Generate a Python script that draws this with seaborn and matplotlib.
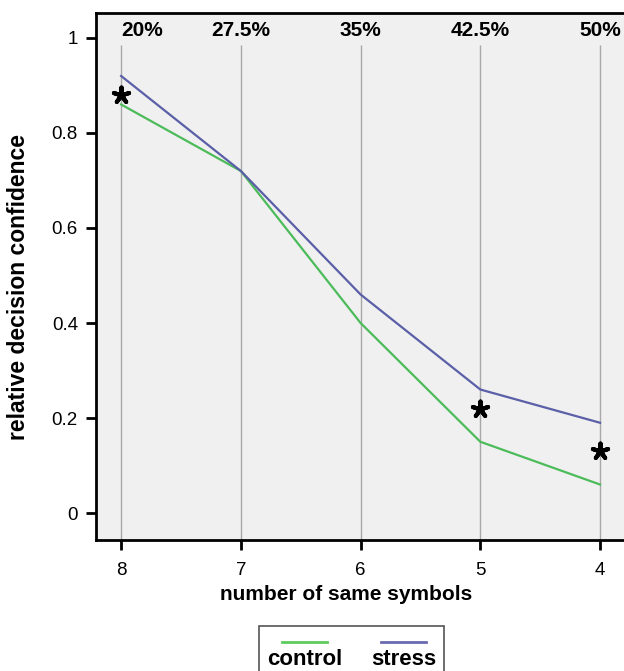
import numpy as np
import pandas as pd
import seaborn as sns
import matplotlib
matplotlib.use('Agg')
import matplotlib.pyplot as plt
from matplotlib.lines import Line2D
from matplotlib.offsetbox import VPacker

# values
symbols = [8, 7, 6, 5, 4]
percent_labels = ['20%', '27.5%', '35%', '42.5%', '50%']
control = [0.86, 0.72, 0.40, 0.15, 0.06]
stress = [0.92, 0.72, 0.46, 0.26, 0.19]
star_x = [8, 5, 4]
star_y = [0.88, 0.22, 0.13]
y_ticks = [0, 0.2, 0.4, 0.6, 0.8, 1]
y_ticklabels = ['0', '0.2', '0.4', '0.6', '0.8', '1']

df = pd.DataFrame({
    'symbols': symbols * 2,
    'confidence': control + stress,
    'group': ['control'] * 5 + ['stress'] * 5,
})

plt.rcParams['font.family'] = ['Liberation Sans', 'DejaVu Sans']

colors = {'control': '#4cbb5a', 'stress': '#5a5fa8'}

fig = plt.figure(figsize=(6.24, 6.71), dpi=100)
ax = fig.add_axes([96 / 624, 1 - 540 / 671, 528 / 624, 527 / 671])
ax.set_facecolor('#f0f0f0')

# vertical guide lines
ax.vlines(symbols, -0.06, 0.985, color='#a8a8a8', lw=1, zorder=1)

sns.lineplot(data=df, x='symbols', y='confidence', hue='group',
             palette=colors, linewidth=1.6, legend=False, ax=ax, zorder=3)

ax.scatter(star_x, star_y, marker=(5, 2, 0), s=130, color='black',
           linewidths=3, zorder=4)

# percentage labels on top of the guide lines
pct_align = ['left', 'center', 'center', 'center', 'center']
for x, lab, ha in zip(symbols, percent_labels, pct_align):
    ax.text(x, 1.015, lab, ha=ha, va='center', fontsize=15,
            fontweight='bold')

ax.set_xlim(8.21, 3.8)
ax.set_ylim(-0.0568, 1.0526)
ax.set_xticks(symbols)
ax.set_xticklabels([str(s) for s in symbols], fontsize=13.5)
ax.set_yticks(y_ticks)
ax.set_yticklabels(y_ticklabels, fontsize=13.5)
ax.tick_params(direction='out', length=7, width=2, color='black')
ax.tick_params(axis='x', pad=9)
ax.tick_params(axis='y', pad=6)

for s in ['left', 'bottom', 'top']:
    ax.spines[s].set_color('black')
    ax.spines[s].set_linewidth(2)
ax.spines['right'].set_visible(False)

ax.set_xlabel('number of same symbols', fontsize=15, fontweight='bold')
ax.set_ylabel('relative decision confidence', fontsize=16.5, fontweight='bold')
ax.xaxis.set_label_coords(0.473, -0.1025)
ax.xaxis.label.set_va('center')
ax.yaxis.set_label_coords(-0.146, 0.48)
ax.yaxis.label.set_va('center')

handles = [Line2D([], [], color='#5ccc5c', lw=2),
           Line2D([], [], color='#6a6ab0', lw=2)]
leg = fig.legend(handles, ['control', 'stress'], ncol=2, loc='upper center',
                 bbox_to_anchor=(0.563, 1 - 615 / 671), frameon=True,
                 fancybox=False, edgecolor='#555555', framealpha=1,
                 prop=dict(weight='bold', size=16), handlelength=2.0,
                 columnspacing=1.3, borderpad=0.35)
leg.get_frame().set_linewidth(1.2)
# put each legend line above its label
for col in leg._legend_handle_box.get_children():
    items = col.get_children()
    for i, item in enumerate(items):
        h, t = item.get_children()
        vp = VPacker(pad=0, sep=0, children=[h, t], align='center')
        vp.set_figure(fig)
        items[i] = vp

fig.savefig('out.png', dpi=100)
